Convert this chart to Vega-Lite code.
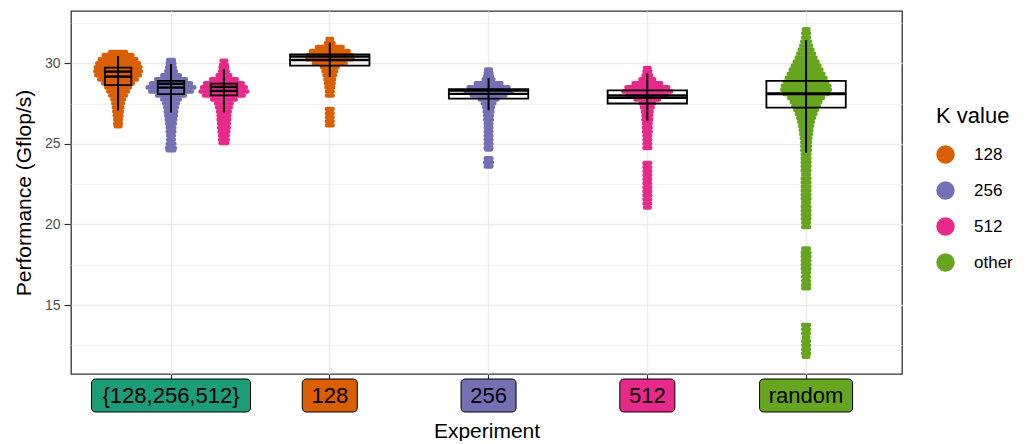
{
  "$schema": "https://vega.github.io/schema/vega-lite/v6.json",
  "padding": {"left": 12, "top": 10, "right": 0, "bottom": 0},
  "background": "white",
  "bounds": "flush",
  "config": {
    "font": "Liberation Sans",
    "view": {"stroke": "#333333", "strokeWidth": 1.3}
  },
  "datasets": {
    "swarm": [
      {"exp":"{128,256,512}","k":"128","perf":30.7,"dens":20},
      {"exp":"{128,256,512}","k":"128","perf":30.5,"dens":33},
      {"exp":"{128,256,512}","k":"128","perf":30.25,"dens":41},
      {"exp":"{128,256,512}","k":"128","perf":30.0,"dens":46},
      {"exp":"{128,256,512}","k":"128","perf":29.75,"dens":49},
      {"exp":"{128,256,512}","k":"128","perf":29.5,"dens":50},
      {"exp":"{128,256,512}","k":"128","perf":29.25,"dens":48},
      {"exp":"{128,256,512}","k":"128","perf":29.0,"dens":42},
      {"exp":"{128,256,512}","k":"128","perf":28.75,"dens":34},
      {"exp":"{128,256,512}","k":"128","perf":28.5,"dens":28},
      {"exp":"{128,256,512}","k":"128","perf":28.25,"dens":24},
      {"exp":"{128,256,512}","k":"128","perf":28.0,"dens":20},
      {"exp":"{128,256,512}","k":"128","perf":27.75,"dens":16},
      {"exp":"{128,256,512}","k":"128","perf":27.5,"dens":14},
      {"exp":"{128,256,512}","k":"128","perf":27.25,"dens":13},
      {"exp":"{128,256,512}","k":"128","perf":27.0,"dens":12},
      {"exp":"{128,256,512}","k":"128","perf":26.75,"dens":11},
      {"exp":"{128,256,512}","k":"128","perf":26.5,"dens":10},
      {"exp":"{128,256,512}","k":"128","perf":26.25,"dens":10},
      {"exp":"{128,256,512}","k":"128","perf":26.1,"dens":9},

      {"exp":"{128,256,512}","k":"256","perf":30.2,"dens":10},
      {"exp":"{128,256,512}","k":"256","perf":30.0,"dens":11},
      {"exp":"{128,256,512}","k":"256","perf":29.75,"dens":12},
      {"exp":"{128,256,512}","k":"256","perf":29.5,"dens":14},
      {"exp":"{128,256,512}","k":"256","perf":29.25,"dens":22},
      {"exp":"{128,256,512}","k":"256","perf":29.0,"dens":34},
      {"exp":"{128,256,512}","k":"256","perf":28.75,"dens":44},
      {"exp":"{128,256,512}","k":"256","perf":28.5,"dens":51},
      {"exp":"{128,256,512}","k":"256","perf":28.25,"dens":46},
      {"exp":"{128,256,512}","k":"256","perf":28.0,"dens":32},
      {"exp":"{128,256,512}","k":"256","perf":27.75,"dens":22},
      {"exp":"{128,256,512}","k":"256","perf":27.5,"dens":18},
      {"exp":"{128,256,512}","k":"256","perf":27.25,"dens":16},
      {"exp":"{128,256,512}","k":"256","perf":27.0,"dens":15},
      {"exp":"{128,256,512}","k":"256","perf":26.75,"dens":14},
      {"exp":"{128,256,512}","k":"256","perf":26.5,"dens":13},
      {"exp":"{128,256,512}","k":"256","perf":26.25,"dens":12},
      {"exp":"{128,256,512}","k":"256","perf":26.0,"dens":11},
      {"exp":"{128,256,512}","k":"256","perf":25.75,"dens":11},
      {"exp":"{128,256,512}","k":"256","perf":25.5,"dens":10},
      {"exp":"{128,256,512}","k":"256","perf":25.25,"dens":10},
      {"exp":"{128,256,512}","k":"256","perf":25.0,"dens":11},
      {"exp":"{128,256,512}","k":"256","perf":24.75,"dens":12},
      {"exp":"{128,256,512}","k":"256","perf":24.6,"dens":11},

      {"exp":"{128,256,512}","k":"512","perf":30.15,"dens":9},
      {"exp":"{128,256,512}","k":"512","perf":29.9,"dens":10},
      {"exp":"{128,256,512}","k":"512","perf":29.75,"dens":11},
      {"exp":"{128,256,512}","k":"512","perf":29.5,"dens":12},
      {"exp":"{128,256,512}","k":"512","perf":29.25,"dens":17},
      {"exp":"{128,256,512}","k":"512","perf":29.0,"dens":30},
      {"exp":"{128,256,512}","k":"512","perf":28.75,"dens":42},
      {"exp":"{128,256,512}","k":"512","perf":28.5,"dens":48},
      {"exp":"{128,256,512}","k":"512","perf":28.25,"dens":51},
      {"exp":"{128,256,512}","k":"512","perf":28.0,"dens":44},
      {"exp":"{128,256,512}","k":"512","perf":27.75,"dens":28},
      {"exp":"{128,256,512}","k":"512","perf":27.5,"dens":20},
      {"exp":"{128,256,512}","k":"512","perf":27.25,"dens":18},
      {"exp":"{128,256,512}","k":"512","perf":27.0,"dens":16},
      {"exp":"{128,256,512}","k":"512","perf":26.75,"dens":15},
      {"exp":"{128,256,512}","k":"512","perf":26.5,"dens":15},
      {"exp":"{128,256,512}","k":"512","perf":26.25,"dens":14},
      {"exp":"{128,256,512}","k":"512","perf":26.0,"dens":14},
      {"exp":"{128,256,512}","k":"512","perf":25.75,"dens":13},
      {"exp":"{128,256,512}","k":"512","perf":25.5,"dens":12},
      {"exp":"{128,256,512}","k":"512","perf":25.25,"dens":12},
      {"exp":"{128,256,512}","k":"512","perf":25.05,"dens":11},

      {"exp":"128","k":"128","perf":31.5,"dens":9},
      {"exp":"128","k":"128","perf":31.25,"dens":12},
      {"exp":"128","k":"128","perf":31.0,"dens":30},
      {"exp":"128","k":"128","perf":30.75,"dens":42},
      {"exp":"128","k":"128","perf":30.5,"dens":48},
      {"exp":"128","k":"128","perf":30.25,"dens":50},
      {"exp":"128","k":"128","perf":30.0,"dens":36},
      {"exp":"128","k":"128","perf":29.75,"dens":20},
      {"exp":"128","k":"128","perf":29.5,"dens":17},
      {"exp":"128","k":"128","perf":29.25,"dens":15},
      {"exp":"128","k":"128","perf":29.0,"dens":13},
      {"exp":"128","k":"128","perf":28.75,"dens":12},
      {"exp":"128","k":"128","perf":28.5,"dens":11},
      {"exp":"128","k":"128","perf":28.25,"dens":10},
      {"exp":"128","k":"128","perf":28.0,"dens":10},
      {"exp":"128","k":"128","perf":27.15,"dens":10},
      {"exp":"128","k":"128","perf":26.9,"dens":10},
      {"exp":"128","k":"128","perf":26.65,"dens":10},
      {"exp":"128","k":"128","perf":26.4,"dens":10},
      {"exp":"128","k":"128","perf":26.15,"dens":10},

      {"exp":"256","k":"256","perf":29.6,"dens":9},
      {"exp":"256","k":"256","perf":29.4,"dens":10},
      {"exp":"256","k":"256","perf":29.2,"dens":11},
      {"exp":"256","k":"256","perf":29.0,"dens":14},
      {"exp":"256","k":"256","perf":28.75,"dens":30},
      {"exp":"256","k":"256","perf":28.5,"dens":44},
      {"exp":"256","k":"256","perf":28.25,"dens":50},
      {"exp":"256","k":"256","perf":28.0,"dens":38},
      {"exp":"256","k":"256","perf":27.75,"dens":22},
      {"exp":"256","k":"256","perf":27.5,"dens":16},
      {"exp":"256","k":"256","perf":27.25,"dens":13},
      {"exp":"256","k":"256","perf":27.0,"dens":12},
      {"exp":"256","k":"256","perf":26.75,"dens":11},
      {"exp":"256","k":"256","perf":26.5,"dens":11},
      {"exp":"256","k":"256","perf":26.25,"dens":10},
      {"exp":"256","k":"256","perf":26.0,"dens":10},
      {"exp":"256","k":"256","perf":25.75,"dens":10},
      {"exp":"256","k":"256","perf":25.5,"dens":10},
      {"exp":"256","k":"256","perf":25.25,"dens":10},
      {"exp":"256","k":"256","perf":25.0,"dens":10},
      {"exp":"256","k":"256","perf":24.75,"dens":10},
      {"exp":"256","k":"256","perf":24.65,"dens":9},
      {"exp":"256","k":"256","perf":24.1,"dens":10},
      {"exp":"256","k":"256","perf":23.85,"dens":11},
      {"exp":"256","k":"256","perf":23.6,"dens":10},

      {"exp":"512","k":"512","perf":29.7,"dens":9},
      {"exp":"512","k":"512","perf":29.5,"dens":10},
      {"exp":"512","k":"512","perf":29.25,"dens":12},
      {"exp":"512","k":"512","perf":29.0,"dens":18},
      {"exp":"512","k":"512","perf":28.75,"dens":32},
      {"exp":"512","k":"512","perf":28.5,"dens":46},
      {"exp":"512","k":"512","perf":28.25,"dens":52},
      {"exp":"512","k":"512","perf":28.0,"dens":44},
      {"exp":"512","k":"512","perf":27.75,"dens":28},
      {"exp":"512","k":"512","perf":27.5,"dens":18},
      {"exp":"512","k":"512","perf":27.25,"dens":15},
      {"exp":"512","k":"512","perf":27.0,"dens":13},
      {"exp":"512","k":"512","perf":26.75,"dens":12},
      {"exp":"512","k":"512","perf":26.5,"dens":12},
      {"exp":"512","k":"512","perf":26.25,"dens":11},
      {"exp":"512","k":"512","perf":26.0,"dens":11},
      {"exp":"512","k":"512","perf":25.75,"dens":11},
      {"exp":"512","k":"512","perf":25.5,"dens":10},
      {"exp":"512","k":"512","perf":25.25,"dens":10},
      {"exp":"512","k":"512","perf":25.0,"dens":10},
      {"exp":"512","k":"512","perf":24.75,"dens":10},
      {"exp":"512","k":"512","perf":23.8,"dens":10},
      {"exp":"512","k":"512","perf":23.55,"dens":10},
      {"exp":"512","k":"512","perf":23.3,"dens":10},
      {"exp":"512","k":"512","perf":23.05,"dens":10},
      {"exp":"512","k":"512","perf":22.8,"dens":10},
      {"exp":"512","k":"512","perf":22.55,"dens":10},
      {"exp":"512","k":"512","perf":22.3,"dens":10},
      {"exp":"512","k":"512","perf":22.05,"dens":10},
      {"exp":"512","k":"512","perf":21.8,"dens":10},
      {"exp":"512","k":"512","perf":21.55,"dens":10},
      {"exp":"512","k":"512","perf":21.3,"dens":10},
      {"exp":"512","k":"512","perf":21.05,"dens":9},

      {"exp":"random","k":"other","perf":32.1,"dens":9},
      {"exp":"random","k":"other","perf":31.85,"dens":10},
      {"exp":"random","k":"other","perf":31.6,"dens":10},
      {"exp":"random","k":"other","perf":31.35,"dens":12},
      {"exp":"random","k":"other","perf":31.1,"dens":14},
      {"exp":"random","k":"other","perf":30.85,"dens":17},
      {"exp":"random","k":"other","perf":30.6,"dens":20},
      {"exp":"random","k":"other","perf":30.35,"dens":23},
      {"exp":"random","k":"other","perf":30.1,"dens":27},
      {"exp":"random","k":"other","perf":29.85,"dens":31},
      {"exp":"random","k":"other","perf":29.6,"dens":35},
      {"exp":"random","k":"other","perf":29.35,"dens":39},
      {"exp":"random","k":"other","perf":29.1,"dens":43},
      {"exp":"random","k":"other","perf":28.85,"dens":47},
      {"exp":"random","k":"other","perf":28.6,"dens":51},
      {"exp":"random","k":"other","perf":28.35,"dens":52},
      {"exp":"random","k":"other","perf":28.1,"dens":48},
      {"exp":"random","k":"other","perf":27.85,"dens":38},
      {"exp":"random","k":"other","perf":27.6,"dens":33},
      {"exp":"random","k":"other","perf":27.35,"dens":30},
      {"exp":"random","k":"other","perf":27.1,"dens":26},
      {"exp":"random","k":"other","perf":26.85,"dens":23},
      {"exp":"random","k":"other","perf":26.6,"dens":20},
      {"exp":"random","k":"other","perf":26.35,"dens":18},
      {"exp":"random","k":"other","perf":26.1,"dens":16},
      {"exp":"random","k":"other","perf":25.85,"dens":15},
      {"exp":"random","k":"other","perf":25.6,"dens":14},
      {"exp":"random","k":"other","perf":25.35,"dens":13},
      {"exp":"random","k":"other","perf":25.1,"dens":12},
      {"exp":"random","k":"other","perf":24.85,"dens":12},
      {"exp":"random","k":"other","perf":24.6,"dens":12},
      {"exp":"random","k":"other","perf":24.35,"dens":11},
      {"exp":"random","k":"other","perf":24.1,"dens":11},
      {"exp":"random","k":"other","perf":23.85,"dens":11},
      {"exp":"random","k":"other","perf":23.6,"dens":11},
      {"exp":"random","k":"other","perf":23.35,"dens":11},
      {"exp":"random","k":"other","perf":23.1,"dens":10},
      {"exp":"random","k":"other","perf":22.85,"dens":11},
      {"exp":"random","k":"other","perf":22.6,"dens":11},
      {"exp":"random","k":"other","perf":22.35,"dens":11},
      {"exp":"random","k":"other","perf":22.1,"dens":11},
      {"exp":"random","k":"other","perf":21.85,"dens":11},
      {"exp":"random","k":"other","perf":21.6,"dens":11},
      {"exp":"random","k":"other","perf":21.35,"dens":10},
      {"exp":"random","k":"other","perf":21.1,"dens":11},
      {"exp":"random","k":"other","perf":20.85,"dens":11},
      {"exp":"random","k":"other","perf":20.6,"dens":11},
      {"exp":"random","k":"other","perf":20.35,"dens":11},
      {"exp":"random","k":"other","perf":20.1,"dens":10},
      {"exp":"random","k":"other","perf":19.85,"dens":10},
      {"exp":"random","k":"other","perf":18.5,"dens":10},
      {"exp":"random","k":"other","perf":18.25,"dens":11},
      {"exp":"random","k":"other","perf":18.0,"dens":11},
      {"exp":"random","k":"other","perf":17.75,"dens":11},
      {"exp":"random","k":"other","perf":17.5,"dens":11},
      {"exp":"random","k":"other","perf":17.25,"dens":11},
      {"exp":"random","k":"other","perf":17.0,"dens":10},
      {"exp":"random","k":"other","perf":16.75,"dens":10},
      {"exp":"random","k":"other","perf":16.5,"dens":10},
      {"exp":"random","k":"other","perf":16.25,"dens":10},
      {"exp":"random","k":"other","perf":16.05,"dens":10},
      {"exp":"random","k":"other","perf":13.75,"dens":10},
      {"exp":"random","k":"other","perf":13.5,"dens":10},
      {"exp":"random","k":"other","perf":13.25,"dens":10},
      {"exp":"random","k":"other","perf":13.0,"dens":9},
      {"exp":"random","k":"other","perf":12.75,"dens":10},
      {"exp":"random","k":"other","perf":12.5,"dens":10},
      {"exp":"random","k":"other","perf":12.25,"dens":10},
      {"exp":"random","k":"other","perf":12.0,"dens":10},
      {"exp":"random","k":"other","perf":11.8,"dens":9}
    ],
    "box": [
      {"exp":"{128,256,512}","k":"128","lo":27.08,"q1":28.64,"med":29.17,"mean":29.48,"q3":29.73,"hi":30.45},
      {"exp":"{128,256,512}","k":"256","lo":26.94,"q1":28.08,"med":28.49,"mean":28.73,"q3":28.9,"hi":29.94},
      {"exp":"{128,256,512}","k":"512","lo":26.94,"q1":28.0,"med":28.28,"mean":28.53,"q3":28.73,"hi":29.63},
      {"exp":"128","k":"128","lo":29.15,"q1":29.85,"med":30.2,"mean":30.42,"q3":30.55,"hi":31.28},
      {"exp":"256","k":"256","lo":27.08,"q1":27.8,"med":28.1,"mean":28.3,"q3":28.39,"hi":29.07},
      {"exp":"512","k":"512","lo":26.42,"q1":27.5,"med":27.85,"mean":28.0,"q3":28.32,"hi":29.36},
      {"exp":"random","k":"other","lo":24.45,"q1":27.25,"med":28.08,"mean":28.12,"q3":28.9,"hi":31.43}
    ],
    "labels": [
      {"exp":"{128,256,512}"},
      {"exp":"128"},
      {"exp":"256"},
      {"exp":"512"},
      {"exp":"random"}
    ]
  },
  "vconcat": [
    {
      "width": 831,
      "height": 363,
      "encoding": {
        "x": {
          "field": "exp", "type": "nominal",
          "scale": {"domain": ["{128,256,512}","128","256","512","random"], "paddingInner": 0, "paddingOuter": 0.117, "align": 0.555},
          "axis": {"title": null, "labels": false, "domain": false, "ticks": true, "tickColor": "#333333", "tickSize": 5, "tickWidth": 1.2, "bandPosition": 0.5, "grid": true, "gridColor": "#EBEBEB", "gridWidth": 1.4}
        }
      },
      "layer": [
        {
          "data": {"name": "swarm"},
          "transform": [{"filter": "datum.exp === '{128,256,512}'"}],
          "mark": {"type": "tick", "thickness": 4.6, "cornerRadius": 2, "opacity": 1},
          "encoding": {
            "xOffset": {"field": "k", "type": "nominal", "scale": {"domain": ["128","256","512"], "paddingInner": 0.5, "paddingOuter": 0.25}},
            "y": {"field": "perf", "type": "quantitative", "scale": {"domain": [10.72, 33.24], "nice": false, "zero": false},
              "axis": {"values": [15,20,25,30], "title": "Performance (Gflop/s)", "orient": "left", "grid": true, "gridColor": "#EBEBEB", "gridWidth": 1.4, "domain": false, "tickColor": "#333333", "tickSize": 7, "tickWidth": 1.2, "labelColor": "#4D4D4D", "labelFontSize": 14, "labelPadding": 4, "titleFontSize": 21, "titleFontWeight": "normal", "titleColor": "#000000", "titlePadding": 10}},
            "size": {"field": "dens", "type": "quantitative", "scale": {"domain": [0, 60], "range": [0, 60]}, "legend": null},
            "color": {"field": "k", "type": "nominal", "scale": {"domain": ["128","256","512","other"], "range": ["#D95F02","#7570B3","#E7298A","#66A61E"]},
              "legend": {"title": "K value", "orient": "none", "legendX": 865, "legendY": 95, "symbolType": "circle", "symbolSize": 340, "symbolStrokeWidth": 0, "symbolOpacity": 1, "labelFontSize": 17, "titleFontSize": 22, "titleFontWeight": "normal", "titleColor": "#000000", "labelColor": "#000000", "rowPadding": 17, "titlePadding": 17, "labelOffset": 19}}
          }
        },
        {
          "data": {"name": "swarm"},
          "transform": [{"filter": "datum.exp !== '{128,256,512}'"}],
          "mark": {"type": "tick", "thickness": 4.6, "cornerRadius": 2, "opacity": 1},
          "encoding": {
            "y": {"field": "perf", "type": "quantitative",
              "axis": {"values": [12.5,17.5,22.5,27.5,32.5], "orient": "left", "grid": true, "gridColor": "#EBEBEB", "gridWidth": 0.7, "domain": false, "ticks": false, "labels": false, "title": null}},
            "size": {"field": "dens", "type": "quantitative", "legend": null},
            "color": {"field": "k", "type": "nominal",
              "legend": {"title": "K value", "orient": "none", "legendX": 865, "legendY": 95, "symbolType": "circle", "symbolSize": 340, "symbolStrokeWidth": 0, "symbolOpacity": 1, "labelFontSize": 17, "titleFontSize": 22, "titleFontWeight": "normal", "titleColor": "#000000", "labelColor": "#000000", "rowPadding": 17, "titlePadding": 17, "labelOffset": 19}}
          }
        },
        {
          "data": {"name": "box"},
          "transform": [{"filter": "datum.exp === '{128,256,512}'"}],
          "mark": {"type": "rule", "color": "#000000", "strokeWidth": 2},
          "encoding": {
            "xOffset": {"field": "k", "type": "nominal"},
            "y": {"field": "lo", "type": "quantitative", "axis": null},
            "y2": {"field": "hi"}
          }
        },
        {
          "data": {"name": "box"},
          "transform": [{"filter": "datum.exp !== '{128,256,512}'"}],
          "mark": {"type": "rule", "color": "#000000", "strokeWidth": 2},
          "encoding": {
            "y": {"field": "lo", "type": "quantitative", "axis": null},
            "y2": {"field": "hi"}
          }
        },
        {
          "data": {"name": "box"},
          "transform": [{"filter": "datum.exp === '{128,256,512}'"}],
          "mark": {"type": "bar", "fill": null, "fillOpacity": 0, "stroke": "#000000", "strokeWidth": 1.8},
          "encoding": {
            "xOffset": {"field": "k", "type": "nominal"},
            "y": {"field": "q1", "type": "quantitative", "axis": null},
            "y2": {"field": "q3"}
          }
        },
        {
          "data": {"name": "box"},
          "transform": [{"filter": "datum.exp !== '{128,256,512}'"}],
          "mark": {"type": "bar", "width": {"band": 0.5}, "fill": null, "fillOpacity": 0, "stroke": "#000000", "strokeWidth": 1.8},
          "encoding": {
            "y": {"field": "q1", "type": "quantitative", "axis": null},
            "y2": {"field": "q3"}
          }
        },
        {
          "data": {"name": "box"},
          "transform": [{"filter": "datum.exp === '{128,256,512}'"}],
          "mark": {"type": "tick", "color": "#000000", "size": 27, "thickness": 2.4, "opacity": 1},
          "encoding": {
            "xOffset": {"field": "k", "type": "nominal"},
            "y": {"field": "med", "type": "quantitative", "axis": null}
          }
        },
        {
          "data": {"name": "box"},
          "transform": [{"filter": "datum.exp === '{128,256,512}'"}],
          "mark": {"type": "tick", "color": "#000000", "size": 27, "thickness": 2.4, "opacity": 1},
          "encoding": {
            "xOffset": {"field": "k", "type": "nominal"},
            "y": {"field": "mean", "type": "quantitative", "axis": null}
          }
        },
        {
          "data": {"name": "box"},
          "transform": [{"filter": "datum.exp !== '{128,256,512}'"}],
          "mark": {"type": "tick", "color": "#000000", "size": 80, "thickness": 2.4, "opacity": 1},
          "encoding": {
            "y": {"field": "med", "type": "quantitative", "axis": null}
          }
        },
        {
          "data": {"name": "box"},
          "transform": [{"filter": "datum.exp !== '{128,256,512}'"}],
          "mark": {"type": "tick", "color": "#000000", "size": 80, "thickness": 2.4, "opacity": 1},
          "encoding": {
            "y": {"field": "mean", "type": "quantitative", "axis": null}
          }
        }
      ],
      "resolve": {"axis": {"y": "independent"}}
    },
    {
      "width": 831,
      "height": 33,
      "view": {"stroke": null},
      "data": {"name": "labels"},
      "encoding": {
        "x": {
          "field": "exp", "type": "nominal",
          "scale": {"domain": ["{128,256,512}","128","256","512","random"], "paddingInner": 0, "paddingOuter": 0.117, "align": 0.555},
          "axis": {"title": "Experiment", "labels": false, "ticks": false, "domain": false, "grid": false, "titleFontSize": 21, "titleFontWeight": "normal", "titleColor": "#000000", "titlePadding": 8}
        }
      },
      "layer": [
        {
          "transform": [{"filter": "datum.exp === '{128,256,512}'"}],
          "mark": {"type": "bar", "width": 159, "cornerRadius": 4, "stroke": "#000000", "strokeWidth": 1},
          "encoding": {"color": {"field": "exp", "type": "nominal", "scale": {"domain": ["{128,256,512}","128","256","512","random"], "range": ["#1B9E77","#D95F02","#7570B3","#E7298A","#66A61E"]}, "legend": null}}
        },
        {
          "transform": [{"filter": "datum.exp === '128' || datum.exp === '256' || datum.exp === '512'"}],
          "mark": {"type": "bar", "width": 55, "cornerRadius": 4, "stroke": "#000000", "strokeWidth": 1},
          "encoding": {"color": {"field": "exp", "type": "nominal", "legend": null}}
        },
        {
          "transform": [{"filter": "datum.exp === 'random'"}],
          "mark": {"type": "bar", "width": 93, "cornerRadius": 4, "stroke": "#000000", "strokeWidth": 1},
          "encoding": {"color": {"field": "exp", "type": "nominal", "legend": null}}
        },
        {
          "mark": {"type": "text", "fontSize": 22, "baseline": "middle", "align": "center", "color": "#000000"},
          "encoding": {"text": {"field": "exp"}}
        }
      ]
    }
  ],
  "spacing": 5,
  "resolve": {"scale": {"color": "independent"}}
}
